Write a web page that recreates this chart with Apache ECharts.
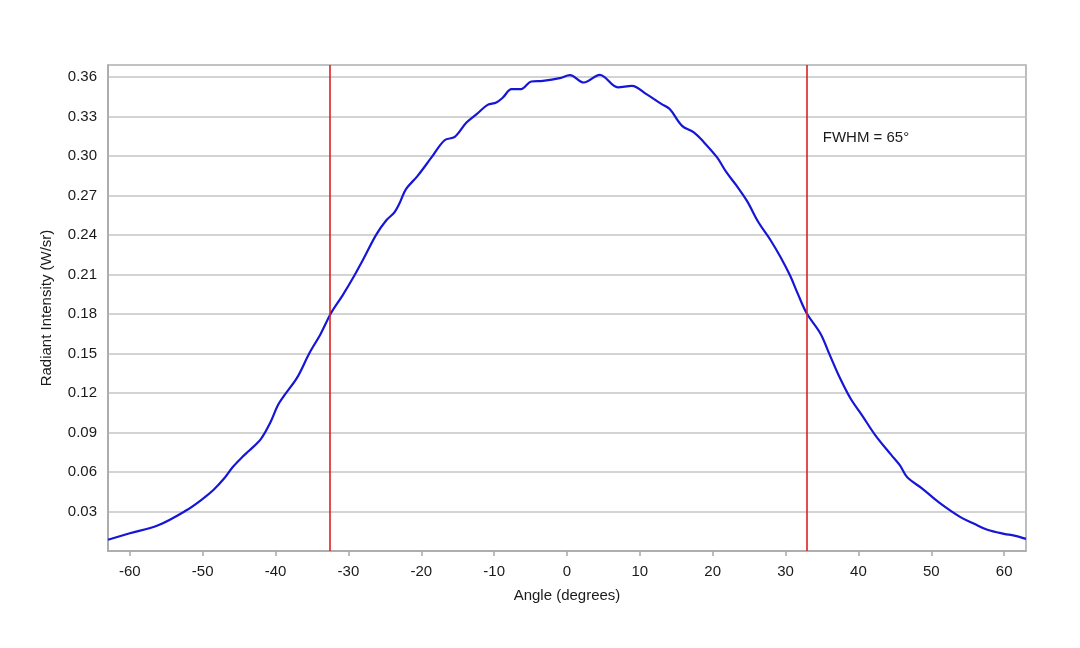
<!DOCTYPE html>
<html>
<head>
<meta charset="utf-8">
<script src="https://cdn.jsdelivr.net/npm/echarts@6/dist/echarts.min.js"></script>
<style>html,body{margin:0;padding:0;background:#fff}#c{width:1080px;height:648px}</style>
</head>
<body>
<div id="c"></div>
<script>
// Data
const angles = [-63.0,-60.0,-56.2,-52.3,-50.0,-48.5,-47.1,-45.9,-44.6,-43.6,-42.0,-40.7,-39.7,-38.8,-37.0,-35.4,-33.8,-32.4,-30.8,-29.2,-27.8,-26.2,-24.8,-23.7,-23.0,-22.1,-20.5,-18.6,-16.8,-15.4,-13.8,-12.4,-10.9,-9.7,-8.8,-7.6,-6.3,-4.9,-3.3,-1.0,0.4,2.3,4.5,7.0,8.9,10.9,13.0,14.1,15.8,17.4,18.7,20.6,21.9,23.3,24.7,26.3,27.9,29.3,30.6,31.7,32.9,34.8,35.9,37.3,38.9,40.5,42.3,44.5,45.7,46.7,48.8,51.0,54.0,55.9,57.7,60.0,61.4,63.0];
const intensity = [0.0085,0.0135,0.0193,0.0307,0.0396,0.0465,0.0548,0.0636,0.0712,0.0763,0.0852,0.0978,0.1105,0.1181,0.132,0.1498,0.165,0.1805,0.1941,0.209,0.2232,0.24,0.2511,0.257,0.2638,0.2747,0.2848,0.2988,0.3119,0.3144,0.3253,0.3317,0.3387,0.3405,0.3443,0.3507,0.3507,0.3565,0.357,0.359,0.3613,0.3557,0.3615,0.352,0.3532,0.3469,0.3393,0.3355,0.3228,0.3178,0.3109,0.2988,0.2874,0.2772,0.2658,0.2494,0.2363,0.2232,0.2093,0.195,0.1805,0.165,0.151,0.1333,0.116,0.103,0.088,0.073,0.065,0.056,0.0472,0.0371,0.0257,0.0206,0.0161,0.013,0.0117,0.0092];
const xTicks = [-60,-50,-40,-30,-20,-10,0,10,20,30,40,50,60];
const yTicks = [0.03,0.06,0.09,0.12,0.15,0.18,0.21,0.24,0.27,0.30,0.33,0.36];
const fwhmEdges = [-32.5, 32.9];
const fwhmText = 'FWHM = 65°';
const fwhmLabelPos = [35.1, 0.314];
const xTitle = 'Angle (degrees)';
const yTitle = 'Radiant Intensity (W/sr)';

const points = angles.map((a, i) => [a, intensity[i]]);
const font = 'Liberation Sans, Arial, sans-serif';
const chart = echarts.init(document.getElementById('c'));
chart.setOption({
  animation: false,
  backgroundColor: '#fff',
  grid: { left: 108, right: 54, top: 65, bottom: 97, show: true, borderColor: '#a8a8a8', borderWidth: 1.5, containLabel: false },
  xAxis: {
    type: 'value', min: -63, max: 63,
    name: xTitle, nameLocation: 'middle', nameGap: 37,
    nameTextStyle: { fontFamily: font, fontSize: 15, color: '#1a1a1a' },
    axisLine: { show: true, onZero: false, lineStyle: { color: '#a8a8a8', width: 1.5 } },
    axisTick: { show: true, length: 5, customValues: xTicks, lineStyle: { color: '#a8a8a8', width: 1.5 } },
    axisLabel: { customValues: xTicks, fontFamily: font, fontSize: 15, color: '#1a1a1a', margin: 13 },
    splitLine: { show: false }
  },
  yAxis: {
    type: 'value', min: 0, max: 0.369, interval: 0.03,
    name: yTitle, nameLocation: 'middle', nameGap: 54, nameRotate: 90,
    nameTextStyle: { fontFamily: font, fontSize: 15, color: '#1a1a1a' },
    axisLine: { show: true, onZero: false, lineStyle: { color: '#a8a8a8', width: 1.5 } },
    axisTick: { show: false },
    axisLabel: { customValues: yTicks, formatter: v => v.toFixed(2), fontFamily: font, fontSize: 15, color: '#1a1a1a', margin: 11 },
    splitLine: { show: true, lineStyle: { color: '#c4c4c4', width: 1.5 } }
  },
  series: [{
    type: 'line', data: points, smooth: 0.35, showSymbol: false,
    lineStyle: { color: '#1616d6', width: 2.2 },
    markLine: {
      silent: true, symbol: ['none', 'none'], label: { show: false },
      lineStyle: { color: '#dd2020', width: 1.6, type: 'solid' },
      data: fwhmEdges.map(x => ({ xAxis: x }))
    },
    markPoint: {
      silent: true, symbol: 'circle', symbolSize: 0,
      data: [{ coord: fwhmLabelPos, value: fwhmText }],
      label: { show: true, position: 'inside', align: 'left', verticalAlign: 'middle', formatter: fwhmText, fontFamily: font, fontSize: 15, color: '#1a1a1a' }
    }
  }]
});
</script>
</body>
</html>
